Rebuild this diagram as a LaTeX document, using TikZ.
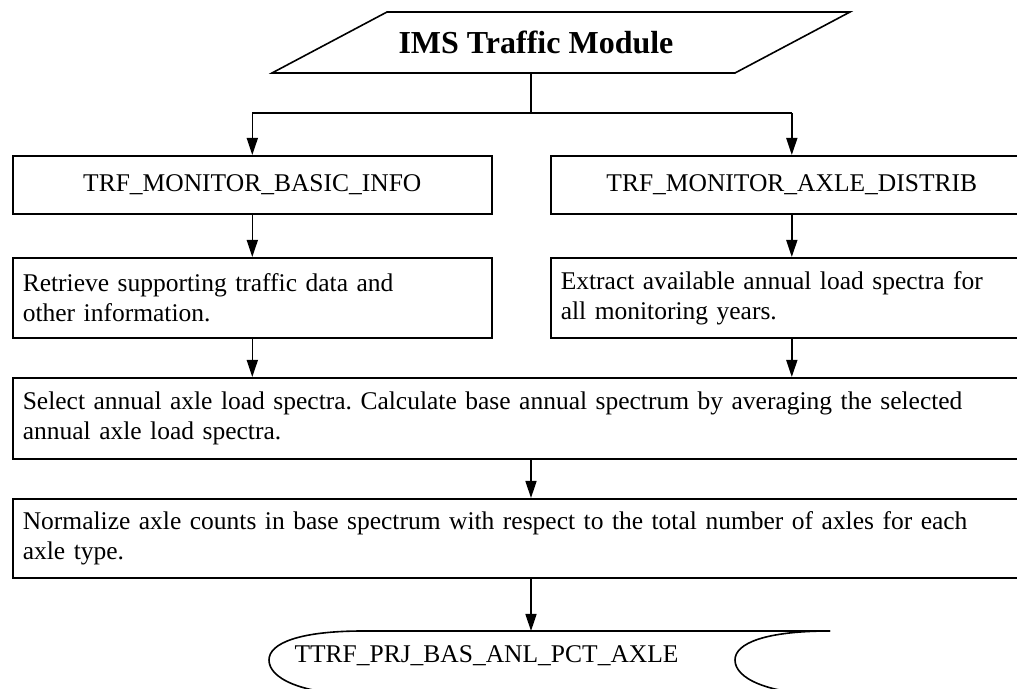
\documentclass[tikz,border=0pt]{standalone}
\usepackage{fontspec}
\setmainfont{Liberation Serif}
\usetikzlibrary{positioning,arrows.meta}

\tikzset{
	box/.style={draw, line width=1.6pt, inner xsep=10pt, inner ysep=0pt},
	boxtext/.style={box, align=left},
	arr/.style={line width=1.6pt, -{Triangle[length=17pt,width=11pt]}},
	ln/.style={line width=1.6pt}
}

\begin{document}
\frenchspacing
\begin{tikzpicture}[x=1pt,y=1pt,font=\fontsize{25.5}{30}\selectfont]
		
		\useasboundingbox (0,0) rectangle (1017,688);
		\clip (0,0) rectangle (1017,688);
		
		% top input
		\draw[ln] (272,615) -- (735,615) -- (850,676) -- (387,676) -- cycle;
		\node[font=\fontsize{32}{38}\selectfont\bfseries] (ims) at (536,646) {IMS Traffic Module};
		\coordinate (imsb) at (531,615);
		\coordinate (split) at (531,575);
		
		% tables
		\node[box, anchor=north west, minimum width=479pt, minimum height=58pt] (basic) at (12,533) {TRF\_MONITOR\_BASIC\_INFO};
		\node[box, anchor=north west, minimum width=482pt, minimum height=58pt] (axle) at (550,533) {TRF\_MONITOR\_AXLE\_DISTRIB};
		
		% steps
		\node[boxtext, anchor=north west, text width=459pt, minimum height=80pt] (retrieve) at (12,431)
			{Retrieve supporting traffic data and\\other information.};
		\node[boxtext, anchor=north west, text width=462pt, minimum height=80pt] (extract) at (550,431)
			{Extract available annual load spectra for\\all monitoring years.};
		\node[boxtext, anchor=north west, text width=1000pt, minimum height=81pt] (select) at (12,311)
			{Select annual axle load spectra. Calculate base annual spectrum by averaging the selected\\annual axle load spectra.};
		\node[boxtext, anchor=north west, text width=1000pt, minimum height=79pt] (normalize) at (12,190)
			{Normalize axle counts in base spectrum with respect to the total number of axles for each\\axle type.};
		
		% output
		\draw[ln] (830,57) -- (363,57) .. controls (300,57) and (269,45) .. (269,28)
			.. controls (269,10) and (300,-6) .. (363,-7) -- (830,-7);
		\draw[ln] (830,57) .. controls (766,57) and (735,45) .. (735,28)
			.. controls (735,10) and (766,-6) .. (830,-7);
		\node[anchor=west] (pct) at (291,32) {TTRF\_PRJ\_BAS\_ANL\_PCT\_AXLE};
		\coordinate (pcttop) at (531,57);
		
		% connectors
		\draw[ln] (imsb) -- (split);
		\draw[ln] (basic.north |- split) -- (axle.north |- split);
		\foreach \n in {basic, axle}
			\draw[arr] (\n.north |- split) -- (\n.north);
		\foreach \a/\b in {basic/retrieve, axle/extract}
			\draw[arr] (\a.south) -- (\a.south |- \b.north);
		\foreach \a in {retrieve, extract}
			\draw[arr] (\a.south) -- (\a.south |- select.north);
		\draw[arr] (select.south -| imsb) -- (normalize.north -| imsb);
		\draw[arr] (normalize.south -| imsb) -- (pcttop);
		
	\end{tikzpicture}
\end{document}
